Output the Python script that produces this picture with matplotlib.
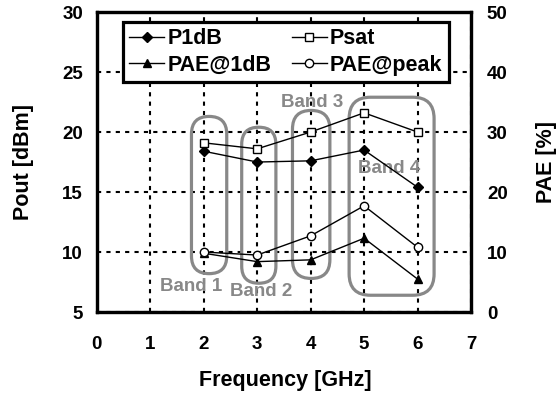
import matplotlib
matplotlib.use("Agg")
import matplotlib.pyplot as plt
from matplotlib.patches import FancyBboxPatch

plt.rcParams['font.family'] = ['Liberation Sans', 'DejaVu Sans']
plt.rcParams['font.weight'] = 'bold'

# Datos
freq = [2, 3, 4, 5, 6]
p1db = [18.4, 17.5, 17.6, 18.5, 15.4]
psat = [19.1, 18.6, 20.0, 21.6, 20.0]
pae_1db = [9.8, 8.4, 8.7, 12.3, 5.5]
pae_peak = [10.0, 9.5, 12.7, 17.7, 10.8]

bandas = ["Band 1", "Band 2", "Band 3", "Band 4"]

fig = plt.figure(figsize=(5.6, 3.94), dpi=100)
ax = fig.add_axes([0.173, 0.208, 0.668, 0.7615])
ax2 = ax.twinx()

ax.set_xlim(0, 7)
ax.set_ylim(5, 30)
ax2.set_ylim(0, 50)
ax.set_xticks(range(0, 8))
ax.set_yticks(range(5, 31, 5))
ax2.set_yticks(range(0, 51, 10))

ax.tick_params(axis='x', length=0, labelsize=13.5, pad=17)
ax.tick_params(axis='y', length=0, labelsize=13.5, pad=10)
ax2.tick_params(axis='y', length=0, labelsize=13.5, pad=11.5)
for a in (ax, ax2):
    for s in a.spines.values():
        s.set_linewidth(2.3)
for lab in ax.get_xticklabels() + ax.get_yticklabels() + ax2.get_yticklabels():
    lab.set_fontweight('bold')

ax.grid(True, color='black', linestyle=(0, (2, 2.5)), linewidth=1.5)

# Recuadros de las bandas (x0, y0, ancho, alto, radio)
cajas = [(1.77, 8.2, 0.66, 13.1, 0.33),
         (2.71, 7.4, 0.64, 13.0, 0.32),
         (3.66, 7.8, 0.70, 14.0, 0.35),
         (4.72, 6.4, 1.59, 16.5, 0.40)]
aspecto = (374 / 7) / (300 / 25)
for x0, y0, w, h, r in cajas:
    caja = FancyBboxPatch((x0, y0), w, h,
                          boxstyle=f"round,pad=0,rounding_size={r}",
                          mutation_aspect=aspecto, fill=False,
                          edgecolor='#888888', linewidth=2.3, zorder=3)
    ax.add_patch(caja)

pos_txt = [(1.76, 7.1), (3.08, 6.7), (4.02, 22.5), (5.47, 17.0)]
for nombre, (tx, ty) in zip(bandas, pos_txt):
    ax.text(tx, ty, nombre, color='#888888', fontsize=13.5, fontweight='bold',
            ha='center', va='center', zorder=4)

l1, = ax.plot(freq, p1db, '-D', color='black', lw=1, ms=5,
              mfc='black', label='P1dB', zorder=5)
l2, = ax.plot(freq, psat, '-s', color='black', lw=1, ms=6,
              mfc='white', label='Psat', zorder=5)
l3, = ax2.plot(freq, pae_1db, '-^', color='black', lw=1, ms=6,
               mfc='black', label='PAE@1dB', zorder=5)
l4, = ax2.plot(freq, pae_peak, '-o', color='black', lw=1, ms=6,
               mfc='white', label='PAE@peak', zorder=5)

leg = ax2.legend(handles=[l1, l3, l2, l4], ncol=2, loc='upper left',
                 bbox_to_anchor=(123 / 560, 1 - 22 / 394),
                 bbox_transform=fig.transFigure, borderaxespad=0,
                 frameon=True, fancybox=False, framealpha=1,
                 edgecolor='black', prop={'weight': 'bold', 'size': 15.5},
                 handlelength=1.63, handletextpad=0.15, columnspacing=0.93,
                 labelspacing=0.26, borderpad=0.29)
leg.get_frame().set_linewidth(2.3)

ax.set_xlabel("Frequency [GHz]", fontsize=15.5, fontweight='bold', va='center')
ax.xaxis.set_label_coords(0.503, -0.227)
ax.set_ylabel("Pout [dBm]", fontsize=15.5, fontweight='bold', va='center')
ax.yaxis.set_label_coords(-0.195, 0.5)
ax2.set_ylabel("PAE [%]", fontsize=15.5, fontweight='bold', va='center')
ax2.yaxis.set_label_coords(1.203, 0.5)

fig.savefig("out.png", dpi=100)
